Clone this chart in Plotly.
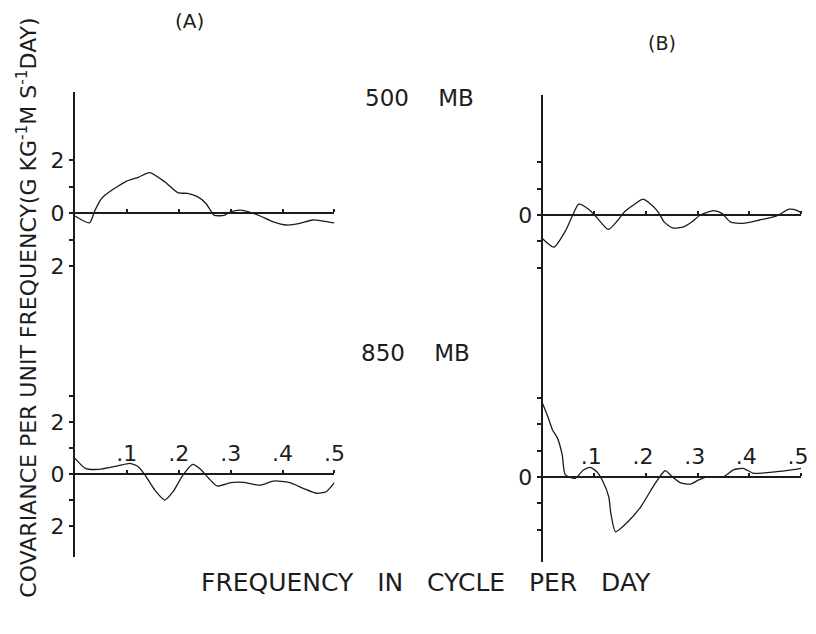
import plotly.graph_objects as go

# ---------------- data ----------------
# (A) 500 MB
a500_x = [0.0, 0.028, 0.038, 0.049, 0.058, 0.097, 0.122, 0.144, 0.173, 0.198, 0.217, 0.236,
          0.252, 0.263, 0.268, 0.287, 0.30, 0.319, 0.335, 0.357, 0.382, 0.408, 0.433, 0.458,
          0.478, 0.5]
a500_y = [-0.11, -0.37, 0.08, 0.49, 0.68, 1.18, 1.35, 1.53, 1.18, 0.77, 0.74, 0.62,
          0.37, 0.05, -0.08, -0.09, 0.05, 0.11, 0.05, -0.11, -0.33, -0.45, -0.39, -0.26,
          -0.30, -0.37]
# (A) 850 MB
a850_x = [0.0, 0.02, 0.046, 0.084, 0.106, 0.122, 0.135, 0.154, 0.173, 0.189, 0.208, 0.227,
          0.242, 0.258, 0.274, 0.30, 0.325, 0.357, 0.382, 0.414, 0.44, 0.465, 0.484, 0.5]
a850_y = [0.6, 0.22, 0.18, 0.32, 0.41, 0.28, -0.04, -0.62, -1.0, -0.68, -0.04, 0.37,
          0.18, -0.17, -0.46, -0.33, -0.32, -0.43, -0.27, -0.33, -0.55, -0.74, -0.68, -0.33]
# (B) 500 MB
b500_x = [0.0, 0.022, 0.045, 0.057, 0.07, 0.089, 0.105, 0.127, 0.143, 0.159, 0.178, 0.194,
          0.207, 0.223, 0.235, 0.251, 0.273, 0.289, 0.305, 0.331, 0.347, 0.363, 0.388, 0.42,
          0.452, 0.477, 0.493, 0.5]
b500_y = [-0.9, -1.22, -0.58, -0.06, 0.41, 0.22, -0.1, -0.55, -0.26, 0.13, 0.41, 0.6,
          0.45, 0.13, -0.26, -0.49, -0.45, -0.26, 0.0, 0.17, 0.06, -0.26, -0.32, -0.19,
          -0.04, 0.22, 0.17, 0.09]
# (B) 850 MB
b850_x = [0.0, 0.01, 0.019, 0.029, 0.038, 0.044, 0.063, 0.079, 0.092, 0.105, 0.117, 0.128,
          0.132, 0.141, 0.165, 0.19, 0.216, 0.237, 0.251, 0.267, 0.286, 0.302, 0.318, 0.35,
          0.369, 0.388, 0.408, 0.44, 0.471, 0.5]
b850_y = [2.8, 2.3, 1.8, 1.47, 0.84, 0.08, -0.05, 0.27, 0.37, 0.2, -0.18, -0.75,
          -1.38, -2.08, -1.7, -1.13, -0.3, 0.24, 0.01, -0.22, -0.27, -0.11, 0.01, 0.01,
          0.27, 0.33, 0.14, 0.18, 0.24, 0.33]

x_tickvals = [0.1, 0.2, 0.3, 0.4, 0.5]
x_ticktext = [".1", ".2", ".3", ".4", ".5"]
ya_vals = [-2, -1, 0, 1, 2]
ya_text = ["2", "", "0", "", "2"]
ya3_vals = [-2, -1, 0, 1, 2, 3]
ya3_text = ["2", "", "0", "", "2", ""]
yb_text = ["", "", "0", "", ""]
yb3_text = ["", "", "0", "", "", ""]

# ---------------- layout ----------------
W, H = 816, 634
INK = "#1c1c1c"
FONT = "DejaVu Sans"

def px_x(p):
    return p / W

def px_y(p):
    return 1 - p / H

panels = [
    dict(x=a500_x, y=a500_y, xd=(76, 339), yd=(92, 300), yr=(-3.28, 4.57),
         tv=ya_vals, tt=ya_text, xlab=False),
    dict(x=a850_x, y=a850_y, xd=(76, 339), yd=(300, 557), yr=(-3.19, 6.69),
         tv=ya3_vals, tt=ya3_text, xlab=True),
    dict(x=b500_x, y=b500_y, xd=(550, 812), yd=(95, 330), yr=(-4.37, 4.56),
         tv=ya_vals, tt=yb_text, xlab=False),
    dict(x=b850_x, y=b850_y, xd=(550, 812), yd=(330, 562), yr=(-3.23, 5.59),
         tv=ya3_vals, tt=yb3_text, xlab=True),
]

fig = go.Figure()
layout = dict(
    width=W, height=H, autosize=False,
    margin=dict(l=0, r=0, t=0, b=0),
    paper_bgcolor="white", plot_bgcolor="white",
    showlegend=False,
    font=dict(family=FONT, color=INK),
)

for i, p in enumerate(panels, start=1):
    xa = "x" if i == 1 else f"x{i}"
    ya = "y" if i == 1 else f"y{i}"
    fig.add_trace(go.Scatter(x=p["x"], y=p["y"], mode="lines",
                             line=dict(color=INK, width=1.3, shape="spline", smoothing=0.6),
                             xaxis=xa, yaxis=ya, hoverinfo="skip"))
    ydom = (px_y(p["yd"][1]), px_y(p["yd"][0]))
    xdom = (px_x(p["xd"][0]), px_x(p["xd"][1]))
    r0, r1 = p["yr"]
    zero_pos = ydom[0] + (0 - r0) / (r1 - r0) * (ydom[1] - ydom[0])
    key_x = "xaxis" if i == 1 else f"xaxis{i}"
    key_y = "yaxis" if i == 1 else f"yaxis{i}"
    layout[key_x] = dict(
        domain=list(xdom), range=[0, 0.5], anchor="free", position=zero_pos,
        side="top", showline=True, linecolor=INK, linewidth=2,
        showgrid=False, zeroline=False,
        tickvals=x_tickvals, ticktext=x_ticktext, ticks="outside",
        ticklen=3, tickwidth=2, tickcolor=INK,
        showticklabels=p["xlab"], tickfont=dict(size=22, color=INK, family=FONT),
        ticklabelshift=(-3 if i == 4 else 0),
        fixedrange=True,
    )
    layout[key_y] = dict(
        domain=list(ydom), range=[r0, r1], anchor=xa,
        showline=True, linecolor=INK, linewidth=2,
        showgrid=False, zeroline=False,
        tickvals=p["tv"], ticktext=p["tt"], ticks="outside",
        ticklen=4, tickwidth=2, tickcolor=INK,
        tickfont=dict(size=22, color=INK, family=FONT),
        fixedrange=True,
    )

fig.update_layout(**layout)

ann = [
    dict(text="(A)", x=px_x(192), y=px_y(21), size=20),
    dict(text="(B)", x=px_x(671), y=px_y(43), size=19),
    dict(text="500    MB", x=px_x(425), y=px_y(98), size=23),
    dict(text="850    MB", x=px_x(421), y=px_y(353), size=23),
    dict(text="FREQUENCY   IN   CYCLE   PER   DAY", x=px_x(432), y=px_y(582), size=25),
]
for a in ann:
    fig.add_annotation(text=a["text"], x=a["x"], y=a["y"], xref="paper", yref="paper",
                       showarrow=False, xanchor="center", yanchor="middle",
                       font=dict(size=a["size"], color=INK, family=FONT))

fig.add_annotation(
    text="COVARIANCE PER UNIT FREQUENCY(G KG<sup>-1</sup>M S<sup>-1</sup>DAY)",
    x=px_x(27), y=px_y(308), xref="paper", yref="paper", textangle=-90,
    showarrow=False, xanchor="center", yanchor="middle",
    font=dict(size=22, color=INK, family=FONT))

fig.write_html("out.html",
               config={"responsive": False, "displayModeBar": False},
               post_script="document.body.style.margin='0';document.body.style.padding='0';"
                           "document.body.style.overflow='hidden';")
